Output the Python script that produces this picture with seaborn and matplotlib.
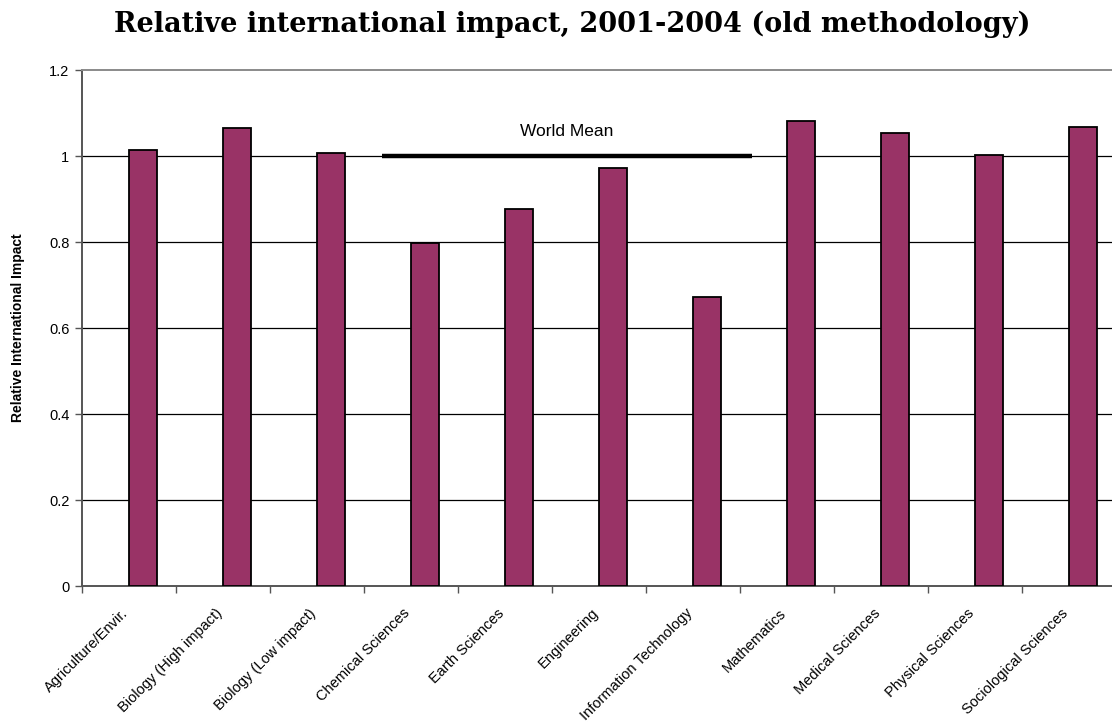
import matplotlib
matplotlib.use("Agg")
import matplotlib.pyplot as plt
import matplotlib.transforms as mtransforms
import seaborn as sns
import pandas as pd

# Data
fields = [
    "Agriculture/Envir.", "Biology (High impact)", "Biology (Low impact)",
    "Chemical Sciences", "Earth Sciences", "Engineering",
    "Information Technology", "Mathematics", "Medical Sciences",
    "Physical Sciences", "Sociological Sciences",
]
impact = [1.014, 1.064, 1.007, 0.797, 0.877, 0.972, 0.672, 1.081, 1.053, 1.003, 1.068]
world_mean = 1.0
y_ticks = [0, 0.2, 0.4, 0.6, 0.8, 1, 1.2]
y_tick_labels = ["0", "0.2", "0.4", "0.6", "0.8", "1", "1.2"]

df = pd.DataFrame({"field": fields, "impact": impact})

sns.set_theme(style="white")
plt.rcParams["font.family"] = ["Liberation Sans", "DejaVu Sans"]
plt.rcParams["text.color"] = "black"
plt.rcParams["axes.labelcolor"] = "black"
plt.rcParams["xtick.color"] = "black"
plt.rcParams["ytick.color"] = "black"

fig = plt.figure(figsize=(11.12, 7.24), dpi=100)
ax = fig.add_axes([0.0737, 0.1906, 0.9300, 0.7127])

bar_w = 0.3
sns.barplot(data=df, x="field", y="impact", order=fields, color="#993366",
            saturation=1, width=bar_w, edgecolor="black", linewidth=1.3,
            errorbar=None, ax=ax, zorder=3)
# bars sit in the right half of each category slot
for p in ax.patches:
    p.set_x(p.get_x() + bar_w / 2)

ax.set_xlim(-0.5, len(fields) - 0.5)
ax.set_ylim(0, 1.2)
ax.set_yticks(y_ticks)
ax.set_yticklabels(y_tick_labels, fontsize=10.5)

# horizontal gridlines
for v in y_ticks[1:-1]:
    ax.axhline(v, color="black", lw=0.9, zorder=1)

# world mean reference bar
ax.plot([2.69, 6.63], [world_mean, world_mean], color="black", lw=3.2,
        solid_capstyle="butt", zorder=4)
ax.text(4.66, 1.056, "World Mean", ha="center", va="center", fontsize=12.5,
        color="black", zorder=5)

# category boundary ticks on the x axis
ax.set_xticks([i - 0.5 for i in range(len(fields) + 1)], minor=True)
ax.tick_params(axis="x", which="minor", bottom=True, length=5, width=1,
               color="#555555", direction="out")
ax.tick_params(axis="x", which="major", bottom=False, length=0, pad=18)
ax.tick_params(axis="y", left=True, length=5, width=1, color="#555555",
               direction="out", pad=4)
ax.set_xticks(range(len(fields)))
ax.set_xticklabels(fields, rotation=45, ha="right", va="center",
                   rotation_mode="anchor", fontsize=10.5)
# nudge the rotated category names slightly to the left
shift = mtransforms.ScaledTranslation(-3 / 100, 0, fig.dpi_scale_trans)
for lbl in ax.get_xticklabels():
    lbl.set_transform(lbl.get_transform() + shift)

ax.set_xlabel("")
ax.set_ylabel("Relative International Impact", fontsize=10, fontweight="bold",
              labelpad=17)

for side in ["left", "bottom"]:
    ax.spines[side].set_color("#555555")
    ax.spines[side].set_linewidth(1.4)
ax.spines["top"].set_color("#8a8a8a")
ax.spines["top"].set_linewidth(1.4)
ax.spines["right"].set_visible(False)

fig.text(0.515, 0.966, "Relative international impact, 2001-2004 (old methodology)",
         ha="center", va="center", fontsize=19.5, fontweight="bold",
         family="DejaVu Serif", color="black")

fig.savefig("out.png", dpi=100)
